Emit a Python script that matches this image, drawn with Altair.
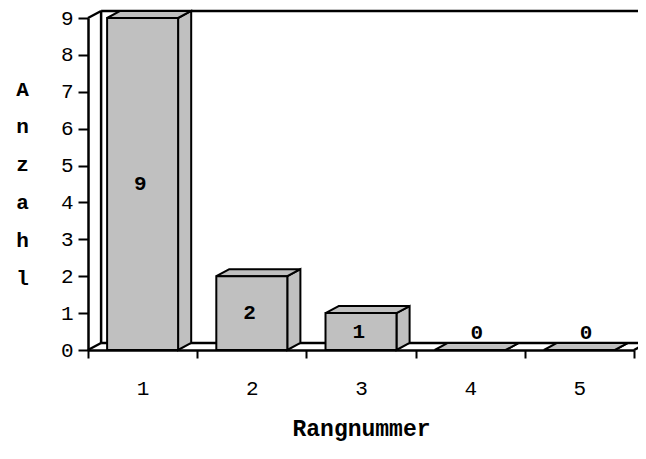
import altair as alt
import pandas as pd

# ---- data ----
categories = [1, 2, 3, 4, 5]
counts = [9, 2, 1, 0, 0]
y_tick_values = [0, 1, 2, 3, 4, 5, 6, 7, 8, 9]
x_tick_edges = [0.5, 1.5, 2.5, 3.5, 4.5, 5.5]
y_title_letters = ["A", "n", "z", "a", "h", "l"]
x_title = "Rangnummer"

# ---- style constants ----
W, H = 546, 332
HALF = 0.325      # half bar width (x units)
DX = 0.12         # 3D depth in x units
DY = 0.19         # 3D depth in y units
GREY = "#C0C0C0"
FONT = "Liberation Mono"
XMAX, YMAX = 5.5, 9

xs = alt.Scale(domain=[0.5, XMAX], nice=False, zero=False)
ys = alt.Scale(domain=[0, YMAX], nice=False, zero=False)

# front faces
front = pd.DataFrame({"c": categories, "v": counts})
front["x1"] = front["c"] - HALF
front["x2"] = front["c"] + HALF

# side and top faces (parallelograms)
side_rows = []
top_rows = []
for c, v in zip(categories, counts):
    side_rows.append({"bar": c, "x": c + HALF, "y0": 0, "y1": v})
    side_rows.append({"bar": c, "x": c + HALF + DX, "y0": DY, "y1": v + DY})
    top_rows.append({"bar": c, "y": v, "xa": c - HALF, "xb": c + HALF})
    top_rows.append({"bar": c, "y": v + DY, "xa": c - HALF + DX, "xb": c + HALF + DX})
side = pd.DataFrame(side_rows)
top = pd.DataFrame(top_rows)

# back wall / floor edges
x0 = x_tick_edges[0]
walls = pd.DataFrame([
    {"x": x0 + DX, "y": DY, "x2": x0 + DX, "y2": YMAX + DY},
    {"x": x0 + DX, "y": YMAX + DY, "x2": XMAX + 0.5, "y2": YMAX + DY},
    {"x": x0 + DX, "y": DY, "x2": XMAX + 0.5, "y2": DY},
    {"x": x0, "y": 0, "x2": x0 + DX, "y2": DY},
    {"x": x0, "y": YMAX, "x2": x0 + DX, "y2": YMAX + DY},
    {"x": XMAX, "y": 0, "x2": XMAX + DX, "y2": DY},
])

x_axis = alt.Axis(
    values=x_tick_edges, tickCount=len(x_tick_edges) + 2,
    labelExpr="datum.value < 5 ? format(datum.value + 0.5, 'd') : ''",
    labelOffset=W / 5 / 2, labelFlush=False, labelOverlap=False, grid=False,
    tickSize=8, tickWidth=2, tickColor="black", domainWidth=2.5, domainColor="black",
    labelFont=FONT, labelFontSize=21, labelColor="black", labelPadding=19,
    title=x_title, titleFont=FONT, titleFontSize=23, titleFontWeight="bold", titleColor="black",
    titleY=78, titleBaseline="middle",
)
y_axis = alt.Axis(
    values=y_tick_values, tickCount=len(y_tick_values) + 2,
    grid=False, labelOverlap=False, labelFlush=False,
    tickSize=10, tickWidth=2, tickColor="black", domainWidth=2.5, domainColor="black",
    labelFont=FONT, labelFontSize=21, labelColor="black", labelPadding=5,
    title=y_title_letters, titleFont=FONT, titleFontSize=21, titleFontWeight="bold",
    titleColor="black", titleAngle=0, titleLineHeight=37.8, titleX=-66, titleY=71,
    titleAlign="center", titleBaseline="middle",
)

wall_layer = alt.Chart(walls).mark_rule(color="black", strokeWidth=2.5).encode(
    x=alt.X("x:Q", scale=xs, axis=x_axis), y=alt.Y("y:Q", scale=ys, axis=y_axis),
    x2="x2:Q", y2="y2:Q",
)

side_layer = alt.Chart(side).mark_area(fill=GREY, stroke="black", strokeWidth=2, strokeJoin="miter").encode(
    x=alt.X("x:Q", scale=xs), y=alt.Y("y0:Q", scale=ys), y2="y1:Q", detail="bar:N",
)

top_layer = alt.Chart(top).mark_area(orient="horizontal", fill=GREY, stroke="black", strokeWidth=2,
                                      strokeJoin="miter").encode(
    y=alt.Y("y:Q", scale=ys), x=alt.X("xa:Q", scale=xs), x2="xb:Q", detail="bar:N",
)

front_layer = alt.Chart(front).mark_rect(fill=GREY, stroke="black", strokeWidth=2).encode(
    x=alt.X("x1:Q", scale=xs), x2="x2:Q", y=alt.Y("v:Q", scale=ys), y2=alt.datum(0),
)

label_layer = alt.Chart(front).transform_calculate(
    ly="max(datum.v / 2, 0.45)",
    lx="datum.c + (datum.v == 0 ? 0.06 : -0.02)",
).mark_text(font=FONT, fontSize=21, fontWeight="bold", color="black", baseline="middle").encode(
    x=alt.X("lx:Q", scale=xs), y=alt.Y("ly:Q", scale=ys), text="v:Q",
)

chart = alt.layer(wall_layer, side_layer, top_layer, front_layer, label_layer).properties(
    width=W, height=H,
    background="white",
    autosize=alt.AutoSizeParams(type="none"),
    padding={"left": 80, "top": 10, "right": 4, "bottom": 94},
).configure_view(stroke=None)

chart.save("out.html", embed_options={"renderer": "svg", "actions": False})
